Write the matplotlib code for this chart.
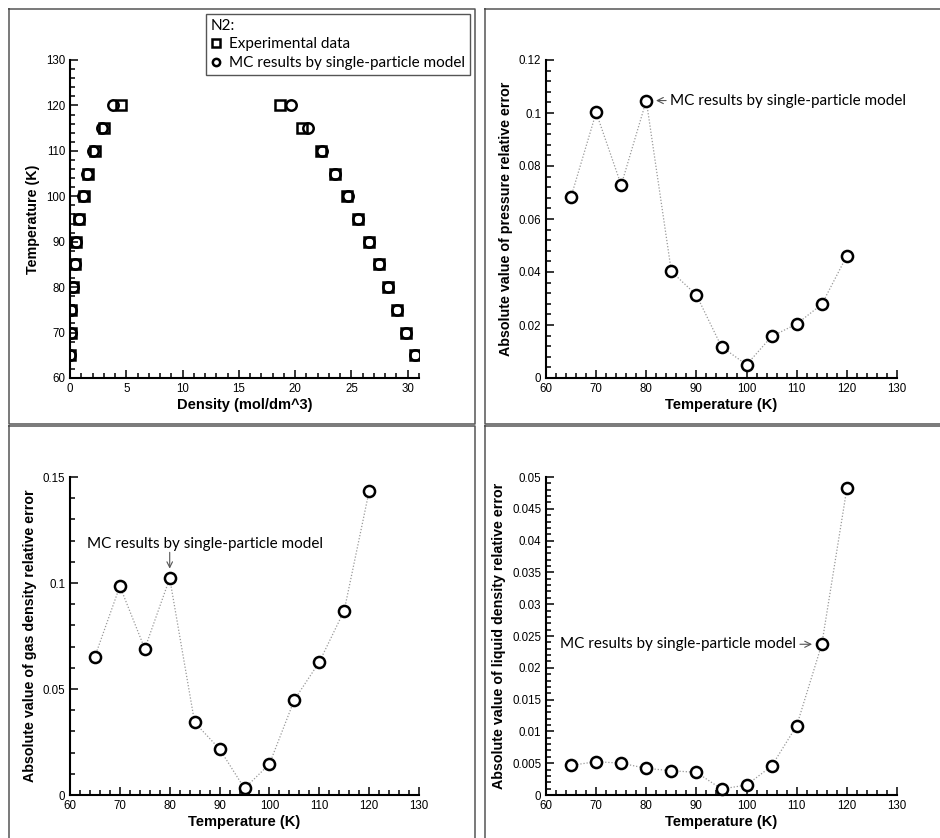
import numpy as np
import matplotlib
matplotlib.use("Agg")
from matplotlib import pyplot as plt
from matplotlib.lines import Line2D
from matplotlib.ticker import MultipleLocator, FormatStrFormatter

# N2 saturation data (temperature K, density mol/dm^3)
temps = [65, 70, 75, 80, 85, 90, 95, 100, 105, 110, 115, 120]
gas_exp = [0.03, 0.06, 0.12, 0.23, 0.40, 0.52, 0.82, 1.20, 1.56, 2.22, 3.05, 4.53]
gas_mc = [0.03, 0.06, 0.12, 0.24, 0.41, 0.50, 0.80, 1.18, 1.54, 2.07, 2.87, 3.79]
liq_exp = [30.62, 29.85, 29.05, 28.25, 27.43, 26.55, 25.60, 24.64, 23.53, 22.30, 20.62, 18.64]
liq_mc = [30.64, 29.82, 29.07, 28.25, 27.45, 26.54, 25.62, 24.66, 23.57, 22.38, 21.18, 19.60]

# absolute values of relative errors
err_pressure = [0.0684, 0.1002, 0.0728, 0.1047, 0.0402, 0.0313, 0.0118, 0.0050, 0.0157, 0.0204, 0.0278, 0.0461]
err_gas = [0.0653, 0.0985, 0.0690, 0.1022, 0.0342, 0.0217, 0.0031, 0.0146, 0.0449, 0.0627, 0.0870, 0.1434]
err_liquid = [0.00466, 0.00524, 0.00500, 0.00419, 0.00382, 0.00356, 0.00094, 0.00157, 0.00455, 0.0109, 0.0237, 0.0482]

tick_font = "Liberation Sans"
note_font = "Lato"

fig = plt.figure(figsize=(9.4, 8.38), dpi=100)
W, H = 940.0, 838.0


def box(x0, y0, x1, y1):
    # panel frames, pixel coords measured from top-left
    xs = [x0 / W, x1 / W, x1 / W, x0 / W, x0 / W]
    ys = [1 - y0 / H, 1 - y0 / H, 1 - y1 / H, 1 - y1 / H, 1 - y0 / H]
    fig.add_artist(Line2D(xs, ys, color="#555555", lw=1.1))


box(9, 9, 475, 424)
box(485, 9, 945, 424)
box(9, 426, 475, 845)
box(485, 426, 945, 845)


def make_ax(x0, y0, x1, y1):
    ax = fig.add_axes([x0 / W, 1 - y1 / H, (x1 - x0) / W, (y1 - y0) / H])
    for s in ["top", "right"]:
        ax.spines[s].set_visible(False)
    for s in ["left", "bottom"]:
        ax.spines[s].set_linewidth(1.5)
    ax.tick_params(which="both", direction="in", width=1.1, labelsize=8.3)
    ax.tick_params(which="major", length=6)
    ax.tick_params(which="minor", length=3.5)
    return ax


def style_labels(ax, xl, yl):
    ax.set_xlabel(xl, fontfamily=tick_font, fontweight="bold", fontsize=10.5, labelpad=2)
    ax.set_ylabel(yl, fontfamily=tick_font, fontweight="bold", fontsize=10.3, labelpad=4)
    for lab in ax.get_xticklabels() + ax.get_yticklabels():
        lab.set_fontfamily(tick_font)


mk = dict(color="black", markerfacecolor="none", markeredgewidth=1.8, markersize=7.5, linestyle="none")

# ---- top left: coexistence curve
ax1 = make_ax(70, 60, 419, 378)
sq = ax1.plot(gas_exp, temps, marker="s", **mk)[0]
ax1.plot(liq_exp, temps, marker="s", **mk)
ci = ax1.plot(gas_mc, temps, marker="o", **mk)[0]
ax1.plot(liq_mc, temps, marker="o", **mk)
ax1.set_xlim(0, 31)
ax1.set_ylim(60, 130)
ax1.xaxis.set_major_locator(MultipleLocator(5))
ax1.xaxis.set_minor_locator(MultipleLocator(1))
ax1.yaxis.set_major_locator(MultipleLocator(10))
ax1.yaxis.set_minor_locator(MultipleLocator(2))
style_labels(ax1, "Density (mol/dm^3)", "Temperature (K)")
leg = ax1.legend([sq, ci], ["Experimental data", "MC results by single-particle model"],
                 title="N2:", loc="upper left", bbox_to_anchor=(206 / W, 1 - 14 / H),
                 bbox_transform=fig.transFigure, fancybox=False, edgecolor="#555555",
                 framealpha=1, borderpad=0.3, handlelength=0.7, handletextpad=0.5,
                 labelspacing=0.32, borderaxespad=0, alignment="left",
                 prop={"family": note_font, "size": 11}, markerscale=0.7)
leg.get_title().set_fontfamily(note_font)
leg.get_title().set_fontsize(11)
leg.get_frame().set_linewidth(1.0)


def err_panel(x0, y0, x1, y1, vals, ymax, major, minor, ylabel):
    ax = make_ax(x0, y0, x1, y1)
    ax.plot(temps, vals, color="#999999", lw=0.9, linestyle=(0, (1, 1.5)), zorder=2)
    ax.plot(temps, vals, marker="o", color="black", markerfacecolor="white",
            markeredgewidth=1.8, markersize=8, linestyle="none", zorder=3, clip_on=False)
    ax.set_xlim(60, 130)
    ax.set_ylim(0, ymax)
    ax.xaxis.set_major_locator(MultipleLocator(10))
    ax.xaxis.set_minor_locator(MultipleLocator(2))
    ax.yaxis.set_major_locator(MultipleLocator(major))
    ax.yaxis.set_minor_locator(MultipleLocator(minor))
    ax.yaxis.set_major_formatter(FormatStrFormatter("%g"))
    style_labels(ax, "Temperature (K)", ylabel)
    return ax


arrowprops = dict(arrowstyle="->", color="#555555", lw=0.8, shrinkA=1, shrinkB=7)

# ---- top right: pressure error
ax2 = err_panel(546, 60, 897, 378, err_pressure, 0.12, 0.02, 0.004,
                "Absolute value of pressure relative error")
ax2.annotate("MC results by single-particle model", xy=(80, err_pressure[3]),
             xytext=(24, 0), textcoords="offset pixels", va="center", ha="left",
             fontfamily=note_font, fontsize=11, arrowprops=arrowprops)

# ---- bottom left: gas density error
ax3 = err_panel(70, 477, 419, 795, err_gas, 0.15, 0.05, 0.01,
                "Absolute value of gas density relative error")
ax3.annotate("", xy=(80, err_gas[3]), xytext=(0, 26), textcoords="offset pixels",
             arrowprops=dict(arrowstyle="->", color="#555555", lw=0.8, shrinkA=0, shrinkB=7))
ax3.annotate("MC results by single-particle model", xy=(80, err_gas[3]),
             xytext=(35, 34), textcoords="offset pixels", va="center", ha="center",
             fontfamily=note_font, fontsize=11)

# ---- bottom right: liquid density error
ax4 = err_panel(546, 477, 897, 795, err_liquid, 0.05, 0.005, 0.001,
                "Absolute value of liquid density relative error")
ax4.annotate("MC results by single-particle model", xy=(115, err_liquid[10]),
             xytext=(-26, 0), textcoords="offset pixels", va="center", ha="right",
             fontfamily=note_font, fontsize=11, arrowprops=arrowprops)

fig.savefig("out.png", dpi=100, facecolor="white")
